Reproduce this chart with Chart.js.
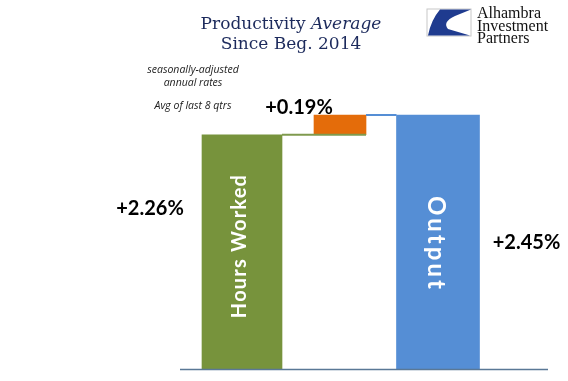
<!DOCTYPE html>
<html>
<head>
<meta charset="utf-8">
<script src="https://cdn.jsdelivr.net/npm/chart.js@4"></script>
<style>
html,body{margin:0;padding:0;background:#fff;}
#wrap{position:relative;width:568px;height:381px;overflow:hidden;}
#c{position:absolute;left:0;top:0;}
.title{position:absolute;left:191px;width:200px;text-align:center;font-family:"DejaVu Serif",serif;font-size:17px;color:#1c2a5c;line-height:20px;white-space:nowrap;}
.note{position:absolute;left:143px;width:100px;text-align:center;font-family:"Open Sans",sans-serif;font-style:italic;font-size:10.5px;color:#222;line-height:12.5px;white-space:nowrap;}
.logo{position:absolute;left:477px;top:7px;font-family:"Liberation Serif",serif;font-size:16px;line-height:12.5px;color:#111;white-space:nowrap;}
</style>
</head>
<body>
<div id="wrap">
<canvas id="c" width="568" height="381"></canvas>
<div class="title" style="top:13px;">Productivity <i>Average</i></div>
<div class="title" style="top:33px;">Since Beg. 2014</div>
<div class="note" style="top:63px;">seasonally-adjusted<br>annual rates</div>
<div class="note" style="top:99px;">Avg of last 8 qtrs</div>
<svg style="position:absolute;left:426px;top:8px;" width="47" height="30" viewBox="0 0 47 30">
<rect x="1" y="1" width="44" height="27" fill="#fff" stroke="#c8c8c8" stroke-width="1"/>
<path d="M14,1.5 L45,1.5 L29,8 Q16,14 22,21 L44,27.5 L2,27.5 Q5,12 14,1.5 Z" fill="#1f3b8f"/>
</svg>
<div class="logo">Alhambra<br>Investment<br>Partners</div>
</div>
<script>
const categories = ['Hours Worked', 'Productivity', 'Output'];
const changes = [2.26, 0.19, 2.45];
const valueLabels = ['+2.26%', '+0.19%', '+2.45%'];
const barColors = ['#77933c', '#e46c0a', '#558ed5'];
const yMin = 0, yMax = 3;

const floating = [
  [0, changes[0]],
  [changes[0], changes[0] + changes[1]],
  [0, changes[2]]
];
const thickness = [80, 52, 83];

const datasets = categories.map((c, i) => ({
  label: c,
  data: categories.map((_, j) => j === i ? floating[i] : null),
  backgroundColor: barColors[i],
  borderWidth: 0,
  barThickness: thickness[i],
  grouped: false
}));

const overlay = {
  id: 'overlay',
  afterDatasetsDraw(chart) {
    const ctx = chart.ctx;
    const y = chart.scales.y;
    const bars = chart.data.datasets.map((d, i) => chart.getDatasetMeta(i).data[i]);
    const g = bars[0], o = bars[1], b = bars[2];
    ctx.save();
    ctx.lineWidth = 2;
    ctx.strokeStyle = '#7f9a4e';
    let yy = y.getPixelForValue(changes[0]);
    ctx.beginPath(); ctx.moveTo(g.x + g.width/2, yy); ctx.lineTo(o.x + o.width/2, yy); ctx.stroke();
    ctx.strokeStyle = '#558ed5';
    yy = y.getPixelForValue(changes[0] + changes[1]);
    ctx.beginPath(); ctx.moveTo(o.x + o.width/2, yy); ctx.lineTo(b.x - b.width/2, yy); ctx.stroke();
    ctx.strokeStyle = '#5a7896';
    ctx.lineWidth = 1.5;
    const y0 = y.getPixelForValue(0);
    ctx.beginPath(); ctx.moveTo(180, y0 + 0.5); ctx.lineTo(548, y0 + 0.5); ctx.stroke();
    ctx.fillStyle = '#000';
    ctx.font = 'bold 20px Lato';
    ctx.textAlign = 'center';
    ctx.textBaseline = 'middle';
    ctx.fillText(valueLabels[0], g.x - g.width/2 - 52, y.getPixelForValue(1.55));
    ctx.fillText(valueLabels[1], o.x - 41, y.getPixelForValue(changes[0] + changes[1]) - 7);
    ctx.fillText(valueLabels[2], b.x + b.width/2 + 47, y.getPixelForValue(1.22));
    ctx.fillStyle = '#fff';
    ctx.font = 'bold 20px Lato';
    if ('letterSpacing' in ctx) ctx.letterSpacing = '1.2px';
    ctx.save();
    ctx.translate(g.x - 2, 246);
    ctx.rotate(-Math.PI/2);
    ctx.fillText(categories[0], 0, 0);
    ctx.restore();
    ctx.font = 'bold 24px Lato';
    if ('letterSpacing' in ctx) ctx.letterSpacing = '3px';
    ctx.save();
    ctx.translate(b.x - 2, 244);
    ctx.rotate(Math.PI/2);
    ctx.fillText(categories[2], 0, 0);
    ctx.restore();
    ctx.restore();
  }
};

new Chart(document.getElementById('c'), {
  type: 'bar',
  data: { labels: categories, datasets },
  options: {
    responsive: false,
    devicePixelRatio: 1,
    animation: false,
    layout: { padding: { left: 193, right: 81, top: 58, bottom: 12 } },
    plugins: { legend: { display: false }, tooltip: { enabled: false }, title: { display: false } },
    scales: {
      x: { display: false },
      y: { display: false, min: yMin, max: yMax }
    }
  },
  plugins: [overlay]
});
</script>
</body>
</html>
